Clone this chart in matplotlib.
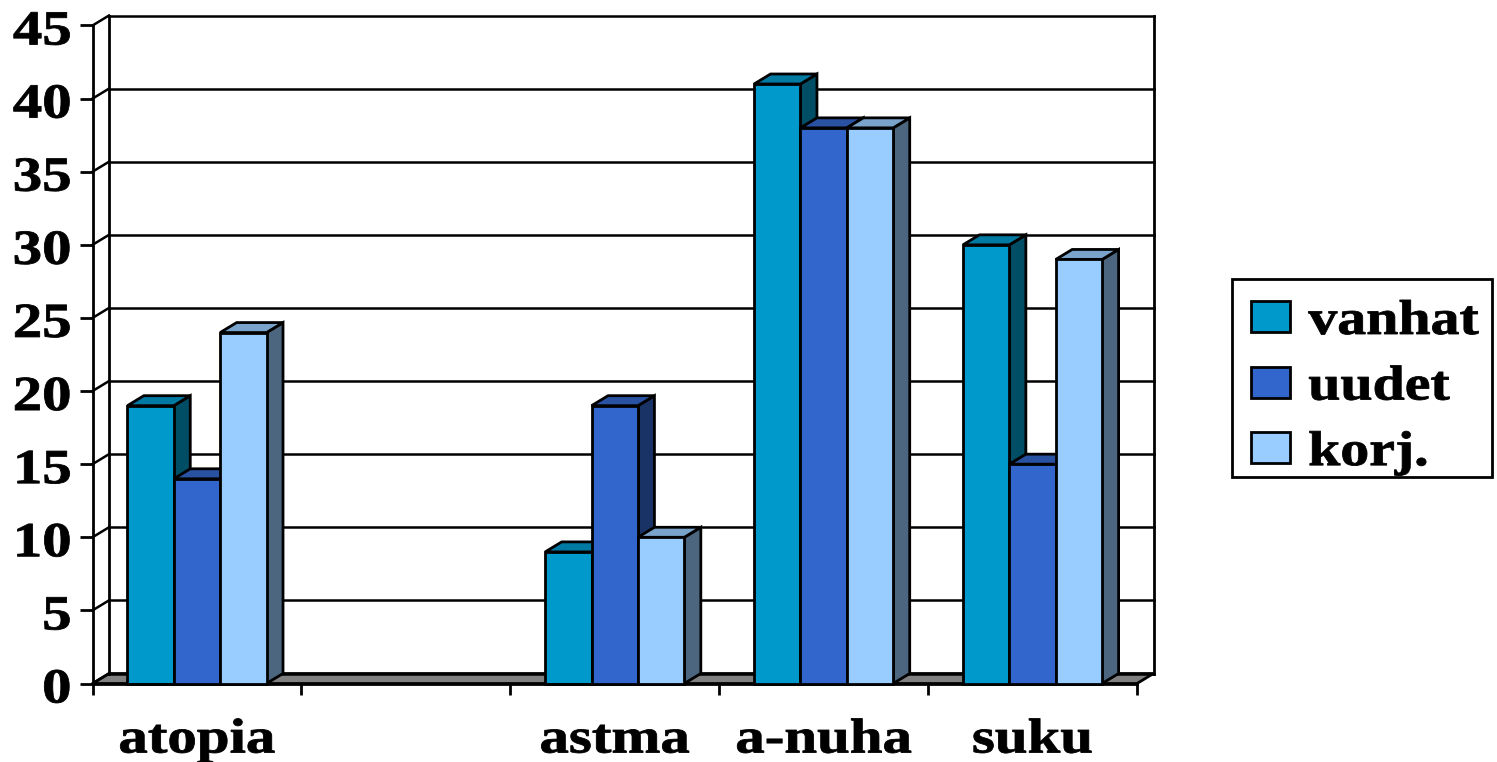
import matplotlib
matplotlib.use("Agg")
import matplotlib.pyplot as plt
import matplotlib.patheffects as pe
from matplotlib.colors import to_rgb
from matplotlib.patches import Polygon, Rectangle
from matplotlib.transforms import Affine2D

categories = ["atopia", "", "astma", "a-nuha", "suku"]
series_names = ["vanhat", "uudet", "korj."]
vanhat = [19, 0, 9, 41, 30]
uudet = [14, 0, 19, 38, 15]
korj = [24, 0, 10, 38, 29]
series_values = [vanhat, uudet, korj]
series_colors = ["#0099CC", "#3366CC", "#99CCFF"]
y_ticks = [0, 5, 10, 15, 20, 25, 30, 35, 40, 45]

W, H, DPI = 1497, 762, 100
AX_L, AX_R, AX_T, AX_B = 92.5, 1137.0, 25.5, 683.5
DEPTH_X = 16.5 / ((AX_R - AX_L) / 5)
DEPTH_Y = 10.0 / ((AX_B - AX_T) / 45)
BAR_W = 0.222
FONT = dict(family="Liberation Serif", weight="bold", size=35.3)
STROKE = 2.0
GRID = 1.8


class WideText(pe.AbstractPathEffect):
    """Stretches and slightly emboldens glyph outlines about one edge or the centre."""

    def __init__(self, sx=1.2, anchor="center", dy=0.0, embolden=0.6):
        super().__init__()
        self.sx, self.anchor, self.dy, self.embolden = sx, anchor, dy, embolden

    def draw_path(self, renderer, gc, tpath, affine, rgbFace=None):
        box = tpath.get_extents()
        pivot = {"left": box.x0, "right": box.x1, "center": (box.x0 + box.x1) / 2}[self.anchor]
        stretch = Affine2D().translate(-pivot, 0).scale(self.sx, 1).translate(pivot, 0)
        gc2 = renderer.new_gc()
        gc2.copy_properties(gc)
        gc2.set_linewidth(self.embolden)
        gc2.set_foreground(rgbFace)
        renderer.draw_path(gc2, tpath, stretch + affine + Affine2D().translate(0, self.dy), rgbFace)
        gc2.restore()


def shade(color, factor):
    return tuple(c * factor for c in to_rgb(color))


fig = plt.figure(figsize=(W / DPI, H / DPI), dpi=DPI, facecolor="white")
ax = fig.add_axes([AX_L / W, 1 - AX_B / H, (AX_R - AX_L) / W, (AX_B - AX_T) / H])
ax.set_xlim(0, 5)
ax.set_ylim(0, 45)
ax.patch.set_visible(False)
for side in ("top", "right"):
    ax.spines[side].set_visible(False)
for side in ("left", "bottom"):
    ax.spines[side].set_linewidth(STROKE)

# Walls and gridlines of the pseudo-3D box
line = dict(color="black", clip_on=False, solid_capstyle="projecting")
ax.add_patch(Polygon([(0, 0), (5, 0), (5 + DEPTH_X, DEPTH_Y), (DEPTH_X, DEPTH_Y)],
                     closed=True, facecolor="#808080", edgecolor="black",
                     linewidth=STROKE, clip_on=False, zorder=1))
for v in y_ticks:
    ax.plot([DEPTH_X, 5 + DEPTH_X], [v + DEPTH_Y] * 2, lw=GRID, zorder=1.2, **line)
    ax.plot([0, DEPTH_X], [v, v + DEPTH_Y], lw=GRID, zorder=1.2, **line)
ax.plot([DEPTH_X, DEPTH_X], [DEPTH_Y, 45 + DEPTH_Y], lw=STROKE, zorder=1.2, **line)
ax.plot([5 + DEPTH_X] * 2, [DEPTH_Y, 45 + DEPTH_Y], lw=STROKE, zorder=1.2, **line)

# Clustered bars, drawn left to right so that nearer faces cover the sides
z = 2.0
edge = dict(edgecolor="black", linewidth=STROKE, clip_on=False)
for s, (values, color) in enumerate(zip(series_values, series_colors)):
    for c, v in enumerate(values):
        if v == 0:
            continue
        x0 = c + 0.5 + (s - 1.5) * BAR_W
        x1 = x0 + BAR_W
        ax.add_patch(Polygon([(x1, 0), (x1 + DEPTH_X, DEPTH_Y), (x1 + DEPTH_X, v + DEPTH_Y), (x1, v)],
                             closed=True, facecolor=shade(color, 0.5), zorder=z, **edge))
        ax.add_patch(Polygon([(x0, v), (x1, v), (x1 + DEPTH_X, v + DEPTH_Y), (x0 + DEPTH_X, v + DEPTH_Y)],
                             closed=True, facecolor=shade(color, 0.8), zorder=z, **edge))
        ax.bar(x0, v, width=BAR_W, align="edge", color=color, zorder=z + 0.1, **edge)
        z += 0.2

# Value axis
ax.set_yticks(y_ticks)
ax.tick_params(axis="y", length=9.4, width=STROKE, pad=6.0)
for lab in ax.get_yticklabels():
    lab.set(**FONT)
    lab.set_path_effects([WideText(anchor="right", dy=-2.0)])

# Category axis: ticks between slots, labels at slot centres
ax.set_xticks(range(6))
ax.set_xticklabels([])
ax.set_xticks([i + 0.5 for i in range(5)], minor=True)
ax.set_xticklabels(categories, minor=True)
ax.tick_params(axis="x", which="major", length=8, width=STROKE)
ax.tick_params(axis="x", which="minor", length=0, pad=49.7)
for lab in ax.get_xticklabels(minor=True):
    lab.set(**FONT)
    lab.set_va("baseline")
    lab.set_path_effects([WideText(anchor="center")])

# Legend contents plus a separate frame sized for the widened text
fig.add_artist(Rectangle((1231.5 / W, 1 - 477 / H), 260.5 / W, 198 / H, transform=fig.transFigure,
                         facecolor="white", edgecolor="black", linewidth=STROKE, zorder=-1))
handles = [Rectangle((0, 0), 1, 1, facecolor=col, edgecolor="black", linewidth=STROKE)
           for col in series_colors]
leg = ax.legend(handles, series_names, loc="upper left",
                bbox_to_anchor=(1251 / W, 1 - 300 / H), bbox_transform=fig.transFigure,
                frameon=False, borderpad=0, borderaxespad=0,
                prop=dict(family="Liberation Serif", weight="bold", size=35.3),
                handlelength=0.8, handleheight=0.6, handletextpad=0.37, labelspacing=0.44)
leg.set_zorder(20)
for t in leg.get_texts():
    t.set_path_effects([WideText(sx=1.18, anchor="left")])

fig.savefig("out.png", dpi=DPI, facecolor="white")
